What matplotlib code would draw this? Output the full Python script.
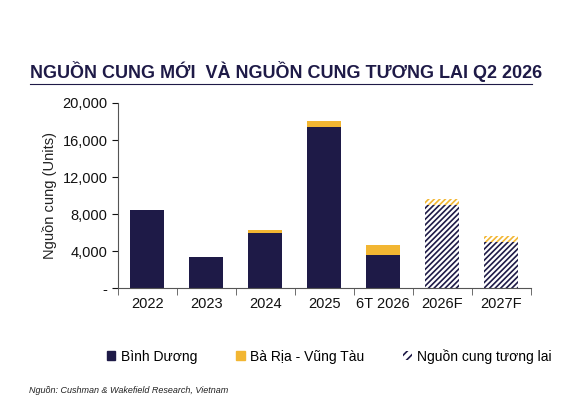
import matplotlib.pyplot as plt
from matplotlib.patches import Patch
from matplotlib.lines import Line2D
import numpy as np

plt.rcParams['font.family'] = ['Liberation Sans', 'DejaVu Sans']
plt.rcParams['hatch.linewidth'] = 1.2

NAVY = '#1e1a47'
GOLD = '#f2b632'

years = ['2022', '2023', '2024', '2025', '6T 2026', '2026F', '2027F']
binh_duong = [8500, 3400, 5950, 17400, 3600, 9000, 5050]
ba_ria = [0, 0, 320, 700, 1050, 650, 650]
forecast = [False, False, False, False, False, True, True]

fig = plt.figure(figsize=(5.78, 4.12), dpi=100)
ax = fig.add_axes([0.204, 0.30, 0.714, 0.45])

x = np.arange(len(years))
for i in range(len(years)):
    if forecast[i]:
        ax.bar(x[i], binh_duong[i], 0.58, color='white', edgecolor=NAVY, hatch='//////', linewidth=0)
        ax.bar(x[i], ba_ria[i], 0.58, bottom=binh_duong[i], color='white', edgecolor=GOLD, hatch='//////', linewidth=0)
    else:
        ax.bar(x[i], binh_duong[i], 0.58, color=NAVY)
        ax.bar(x[i], ba_ria[i], 0.58, bottom=binh_duong[i], color=GOLD)

ax.set_xlim(-0.5, len(years) - 0.5)
ax.set_ylim(0, 20000)
ax.set_yticks(range(0, 20001, 4000))
ax.set_yticklabels(['-'] + [f'{v:,}' for v in range(4000, 20001, 4000)])
ax.set_xticks(x)
ax.set_xticklabels(years)
ax.set_xticks(np.arange(-0.5, len(years)), minor=True)
ax.tick_params(axis='x', which='major', length=0, pad=6)
ax.tick_params(axis='x', which='minor', length=5, color='#555555')
ax.tick_params(axis='y', length=4, color='#555555')
ax.tick_params(labelsize=10.5, colors='#111111')
for s in ['top', 'right']:
    ax.spines[s].set_visible(False)
ax.spines['left'].set_color('#555555')
ax.spines['bottom'].set_color('#555555')
ax.set_ylabel('Nguồn cung (Units)', fontsize=10.5, color='#222222')

fig.text(0.052, 0.81, 'NGUỒN CUNG MỚI  VÀ NGUỒN CUNG TƯƠNG LAI Q2 2026',
         fontsize=13, fontweight='bold', color='#1e1a47')
fig.add_artist(Line2D([0.052, 0.92], [0.795, 0.795], color='#1e1a47', lw=0.8))

handles = [Patch(color=NAVY), Patch(color=GOLD),
           Patch(facecolor='white', edgecolor=NAVY, hatch='////', linewidth=0)]
fig.legend(handles, ['Bình Dương', 'Bà Rịa - Vũng Tàu', 'Nguồn cung tương lai'],
           loc='center', bbox_to_anchor=(0.57, 0.135), ncol=3, frameon=False,
           fontsize=10, handlelength=0.6, handleheight=0.6, columnspacing=2.8,
           handletextpad=0.4)

fig.text(0.05, 0.045, 'Nguồn: Cushman & Wakefield Research, Vietnam',
         fontsize=6.5, style='italic', color='#222222')

fig.savefig('out.png', dpi=100)
